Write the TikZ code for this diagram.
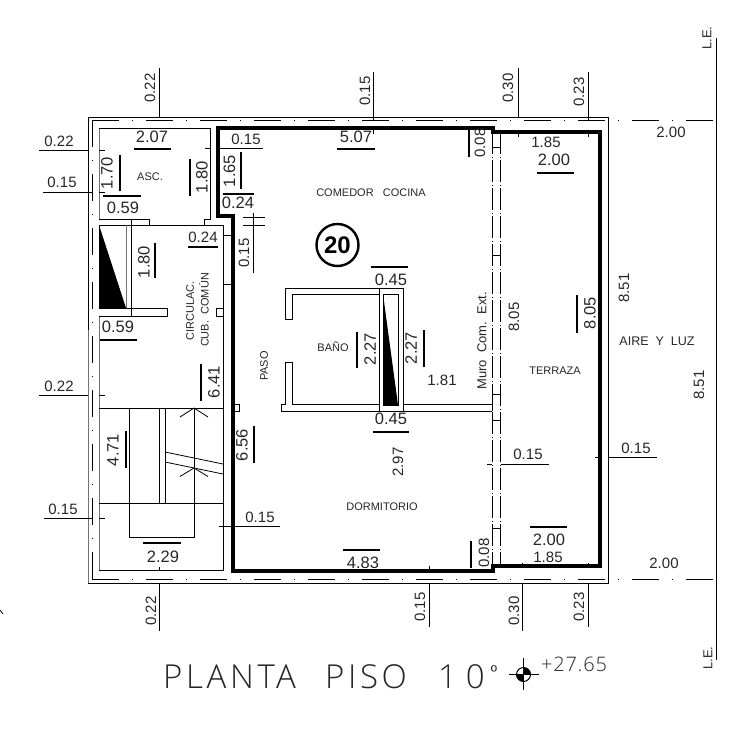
\documentclass[tikz,border=0pt]{standalone}
\usepackage{fontspec}
\setmainfont{Liberation Sans}
\newfontfamily\thinfont{Open Sans Light}
\newfontfamily\thinspaced[LetterSpace=11]{Open Sans Light}
\newfontfamily\levelfont[LetterSpace=4]{Open Sans Light}
\newcommand{\fsz}[1]{\fontsize{#1}{#1}\selectfont}
\tikzset{
  ln/.style={line width=0.8pt,black},
  grayln/.style={line width=1pt,black!55},
  bar/.style={line width=1.6pt,black},
  thickwall/.style={line width=4.3pt,black,miter limit=10},
  axisln/.style={line width=0.8pt,black,dash pattern=on 27pt off 13pt on 1pt off 13pt},
  wallaxis/.style={line width=0.8pt,black,dash pattern=on 22pt off 2.5pt on 1pt off 2.5pt},
  lab/.style={inner sep=0pt,text=black!85},
  dimt/.style={lab,font=\fsz{15}},
  bigt/.style={lab,font=\fsz{16.5}},
  roomt/.style={lab,font=\fsz{11}},
}
\begin{document}
\begin{tikzpicture}[x=1pt,y=-1pt]
\useasboundingbox (0,0) rectangle (756,737);
% outer boundary and axes
\draw[ln] (88,117) rectangle (608,583);
\draw[axisln] (92,120) -- (717,120);
\draw[axisln] (92,579) -- (717,579);
\draw[axisln] (92,120) -- (92,579);
\draw[ln] (716.5,38) -- (716.5,660);
\draw[grayln] (88,330) -- (88,583);
\draw[wallaxis] (492,132) -- (492,566);
\draw[wallaxis] (500,132) -- (500,566);
\foreach \yy in {147,255,420,528}{\draw[ln] (492,\yy) -- (500,\yy);}
% thick wall
\draw[thickwall] (218,128) -- (493,128) -- (493,132) -- (600,132) -- (600,566) -- (493,566) -- (493,571) -- (233,571) -- (233,216) -- (218,216) -- cycle;
% asc room and common hall
\draw[grayln] (99,128) -- (99,219);
\draw[grayln] (99,316) -- (99,570);
\draw[ln] (99,128) -- (210,128) -- (210,219) -- (204,219) -- (204,225);
\draw[ln] (99,219) -- (149,219) -- (149,225);
\draw[ln] (99,225) -- (223,225) -- (223,570) -- (99,570);
\draw[ln] (99,225) -- (99,308);
\draw[ln] (131,219) -- (131,316);
\draw[grayln] (126,225) -- (126,308);
\fill[black] (99,225) -- (126,308) -- (99,308) -- cycle;
\draw[ln] (99,308) -- (167,308) -- (167,316) -- (99,316);
\draw[ln] (216,308) rectangle (223,316);
\draw[ln] (223,235) -- (231,235) (223,284) -- (231,284);
\draw[ln] (234,404) rectangle (239,411);
% stairs
\draw[ln] (99,408) -- (223,408) (99,503) -- (223,503);
\draw[ln] (129,408) -- (129,537) -- (194,537) -- (194,408);
\draw[ln] (159,408) -- (159,503) (165,408) -- (165,503);
\draw[ln] (165,452) -- (223,464) (165,462) -- (223,474);
\draw[ln] (180,417) -- (194,408) -- (208,417);
\draw[ln] (180,476.5) -- (194,468) -- (208,476.5);
% bath
\draw[ln] (379,288) -- (285,288) -- (285,319) -- (292,319) -- (292,294) -- (379,294);
\draw[ln] (379,404) -- (292,404) -- (292,362) -- (285,362) -- (285,404) -- (281,404) -- (281,411) -- (379,411);
\draw[ln] (403,404) -- (492,404) (403,411) -- (492,411);
\draw[ln] (492,394) -- (492,411) (492,394) -- (500,394);
\draw[ln] (379,288) rectangle (403,411);
\draw[ln] (383,294) rectangle (398,405);
\fill[black] (383,294) -- (398,405) -- (383,405) -- cycle;
% circle
\node[circle,draw,line width=2.4pt,minimum size=42pt,inner sep=0pt,font=\fsz{24}\bfseries] (num) at (337.5,245) {20};
% dimension lines
\draw[ln] (159,68) -- (159,117) (373,72) -- (373,121) (518,68) -- (518,117) (588,72) -- (588,121);
\draw[ln] (159,583) -- (159,631) (429,583) -- (429,627) (522,583) -- (522,631) (588,583) -- (588,627);
\draw[ln] (159,567) -- (159,570) (429,566) -- (429,569) (522,563) -- (522,566) (588,563) -- (588,566);
\draw[ln] (373,130) -- (373,134) (518,133) -- (518,137) (588,133) -- (588,137);
\draw[ln] (39,150) -- (88,150) (43,192) -- (92,192) (39,395) -- (88,395) (44,518) -- (92,518);
\draw[ln] (99,150) -- (105,150) (99,192) -- (105,192) (99,395) -- (105,395) (99,518) -- (105,518);
\draw[ln] (205,148) -- (210,148) (220,148) -- (263,148);
\draw[ln] (243,217) -- (265,217) (243,225) -- (265,225) (253,213) -- (253,273);
\draw[ln] (219,526) -- (280,526);
\draw[ln] (487,464) -- (492,464) (501,464) -- (549,464);
\draw[ln] (595,457) -- (600,457) (608,457) -- (657,457);
\draw[ln] (0,610) -- (3,614);
% heavy bars
\draw[bar] (134,149) -- (171,149) (120,155) -- (120,191) (190,159) -- (190,196) (241,152) -- (241,189);
\draw[bar] (223,194) -- (254,194) (103,196) -- (141,196) (188,247) -- (218,247) (155,243) -- (155,278);
\draw[bar] (100,340) -- (137,340) (201,364) -- (201,401) (126,431) -- (126,468) (254,426) -- (254,463);
\draw[bar] (143,543) -- (181,543) (337,149) -- (375,149) (371,267) -- (408,267) (357,332) -- (357,368);
\draw[bar] (424,330) -- (424,367) (373,432) -- (409,432) (343,550) -- (380,550) (471,541) -- (471,568);
\draw[bar] (469,130) -- (469,157) (537,173) -- (574,173) (577,295) -- (577,333) (530,527) -- (567,527);
% texts
\node[dimt,rotate=90] (ta) at (150,88) {0.22};
\node[dimt,rotate=90] (tb) at (365,91) {0.15};
\node[dimt,rotate=90] (tc) at (508,88) {0.30};
\node[dimt,rotate=90] (td) at (579,92) {0.23};
\node[dimt,rotate=90] (te) at (151,611) {0.22};
\node[dimt,rotate=90] (tf) at (420,607) {0.15};
\node[dimt,rotate=90] (tg) at (514,611) {0.30};
\node[dimt,rotate=90] (th) at (579,607) {0.23};
\node[dimt] (ti) at (59,141) {0.22};
\node[dimt] (tj) at (62,182) {0.15};
\node[dimt] (tk) at (246,139) {0.15};
\node[dimt] (tl) at (59,386) {0.22};
\node[dimt] (tm) at (63,509) {0.15};
\node[dimt] (tn) at (260,517) {0.15};
\node[dimt] (to) at (528,454) {0.15};
\node[dimt] (tp) at (636,448) {0.15};
\node[dimt,rotate=90] (tq) at (244,253) {0.15};
\node[bigt] (ua) at (152,137) {2.07};
\node[bigt,rotate=90] (ub) at (107,173) {1.70};
\node[bigt,rotate=90] (uc) at (202,177) {1.80};
\node[bigt,rotate=90] (ud) at (229.5,171) {1.65};
\node[bigt] (ue) at (238,203) {0.24};
\node[bigt] (uf) at (123,208) {0.59};
\node[dimt] (ug) at (203,237) {0.24};
\node[bigt,rotate=90] (uh) at (144,262) {1.80};
\node[bigt] (ui) at (118,327) {0.59};
\node[bigt,rotate=90] (uj) at (214,382) {6.41};
\node[bigt,rotate=90] (uk) at (113,450) {4.71};
\node[bigt,rotate=90] (ul) at (242,445) {6.56};
\node[bigt] (um) at (163,557) {2.29};
\node[bigt] (un) at (356,137) {5.07};
\node[bigt] (uo) at (391,280) {0.45};
\node[bigt,rotate=90] (up) at (370,349) {2.27};
\node[bigt,rotate=90] (uq) at (411,348) {2.27};
\node[bigt] (ur) at (391,419) {0.45};
\node[bigt] (us) at (363,563) {4.83};
\node[dimt,rotate=90] (ut) at (484,553) {0.08};
\node[dimt,rotate=90] (uu) at (480,143) {0.08};
\node[dimt] (uv) at (442,380) {1.81};
\node[dimt,rotate=90] (uw) at (514,317) {8.05};
\node[dimt,rotate=90] (ux) at (398,462) {2.97};
\node[dimt] (uy) at (546,142) {1.85};
\node[bigt] (uz) at (554,160) {2.00};
\node[bigt,rotate=90] (va) at (590,313) {8.05};
\node[bigt] (vb) at (549,540) {2.00};
\node[dimt] (vc) at (548,557) {1.85};
\node[dimt] (vd) at (671,132) {2.00};
\node[dimt] (ve) at (664,563) {2.00};
\node[dimt,rotate=90] (vf) at (624,288) {8.51};
\node[dimt,rotate=90] (vg) at (699,385) {8.51};
\node[roomt] (ra) at (150,177) {ASC.};
\node[roomt] (rb) at (371,193) {COMEDOR\ \ \ COCINA};
\node[roomt,rotate=90] (rc) at (190,311) {CIRCULAC.};
\node[roomt,rotate=90] (rd) at (204,310) {CUB.\ \ COMÚN};
\node[roomt,rotate=90] (re) at (264,366) {PASO};
\node[roomt] (rf) at (333,347) {BAÑO};
\node[lab,font=\fsz{13},rotate=90] (rg) at (482,341) {Muro\ \ Com.\ \ Ext.};
\node[roomt] (rh) at (382,507) {DORMITORIO};
\node[roomt] (ri) at (555,371) {TERRAZA};
\node[lab,font=\fsz{12.5}] (rj) at (657,341) {AIRE\ \ Y\ \ LUZ};
\node[lab,font=\fsz{13},rotate=90] (rk) at (707,38) {L.E.};
\node[lab,font=\fsz{13},rotate=90] (rl) at (708,658) {L.E.};
% title
\node[lab,font=\thinspaced\fsz{33},anchor=base west] (title) at (163,688) {PLANTA};
\node[lab,font=\thinspaced\fsz{33},anchor=base west] (titleb) at (325,688) {PISO};
\node[lab,font=\thinfont\fsz{33},anchor=base west] (titlec) at (438,688) {1};
\node[lab,font=\thinfont\fsz{33},anchor=base east] (titled) at (485,688) {0};
\node[lab,font=\fsz{17}] (ord) at (494,672) {º};
\node[lab,font=\levelfont\fsz{20}] (lev) at (574,664) {+27.65};
\draw[ln] (509,674.5) -- (539,674.5) (523.5,658) -- (523.5,690);
\fill[black] (523.5,674.5) -- (516.5,674.5) arc (180:90:7) -- cycle;
\fill[black] (523.5,674.5) -- (530.5,674.5) arc (0:-90:7) -- cycle;
\draw[line width=1pt] (523.5,674.5) circle (7);
\end{tikzpicture}
\end{document}
